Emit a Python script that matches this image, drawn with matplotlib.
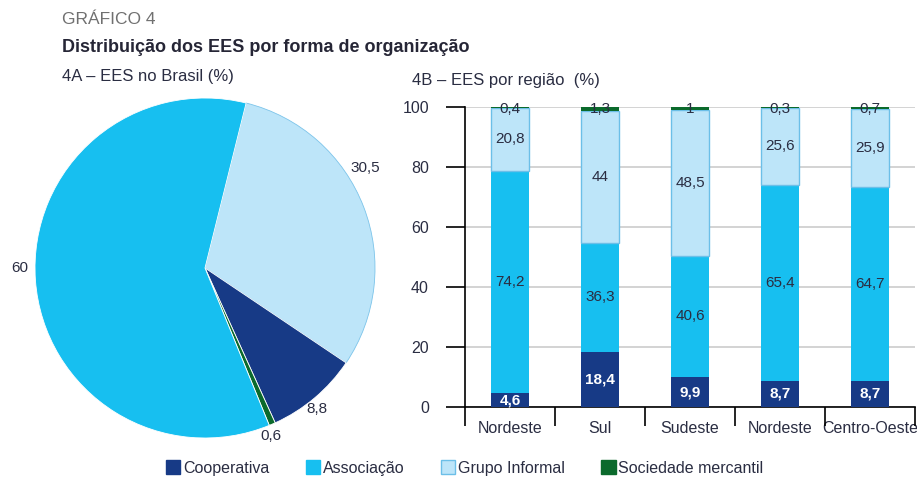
import matplotlib
matplotlib.use("Agg")
import matplotlib.pyplot as plt
import numpy as np
from matplotlib.patches import Patch
from matplotlib.ticker import FixedLocator

plt.rcParams['font.family'] = ['Liberation Sans', 'DejaVu Sans']

# dados
series = ['Cooperativa', 'Associação', 'Grupo Informal', 'Sociedade mercantil']
colors = ['#173a86', '#17bff0', '#bde5f9', '#0b6a2c']

pie_labels = ['Grupo Informal', 'Cooperativa', 'Sociedade mercantil', 'Associação']
pie_values = [30.5, 8.8, 0.6, 60]

regions = ['Nordeste', 'Sul', 'Sudeste', 'Nordeste', 'Centro-Oeste']
cooperativa = [4.6, 18.4, 9.9, 8.7, 8.7]
associacao = [74.2, 36.3, 40.6, 65.4, 64.7]
grupo = [20.8, 44, 48.5, 25.6, 25.9]
sociedade = [0.4, 1.3, 1, 0.3, 0.7]

txt = '#2a2d42'
W, H = 917, 480
fig = plt.figure(figsize=(W / 100, H / 100), dpi=100)

fig.text(62 / W, 1 - 20 / H, 'GRÁFICO 4', fontsize=12.5, color='#707070', va='center')
fig.text(62 / W, 1 - 48 / H, 'Distribuição dos EES por forma de organização', fontsize=13,
         fontweight='bold', color='#262636', va='center')
fig.text(62 / W, 1 - 77 / H, '4A – EES no Brasil (%)', fontsize=12, color=txt, va='center')
fig.text(412 / W, 1 - 80 / H, '4B – EES por região  (%)', fontsize=12, color=txt, va='center')

# pizza
cmap = dict(zip(series, colors))
axp = fig.add_axes([35 / W, 42 / H, 340 / W, 340 / H])
wedges, _ = axp.pie(pie_values, colors=[cmap[s] for s in pie_labels], startangle=76,
                    counterclock=False, radius=1,
                    wedgeprops=dict(linewidth=0.6, edgecolor='white'))
wedges[0].set_edgecolor('#7cc4ea')
axp.set_xlim(-1, 1)
axp.set_ylim(-1, 1)
axp.set_aspect('equal')
label_pos = {'Grupo Informal': (0.94, 0.59), 'Associação': (-1.09, 0.0),
             'Cooperativa': (0.66, -0.83), 'Sociedade mercantil': (0.39, -0.99)}
for name, v in zip(pie_labels, pie_values):
    lx, ly = label_pos[name]
    axp.text(lx, ly, f'{v:g}'.replace('.', ','), ha='center', va='center', fontsize=11, color=txt)

# barras
ax = fig.add_axes([465 / W, 73 / H, 450 / W, 300 / H])
x = np.arange(len(regions))
bw = 0.43
stacks = [cooperativa, associacao, grupo, sociedade]
bottom = np.zeros(len(regions))
for i, (vals, c) in enumerate(zip(stacks, colors)):
    vals = np.array(vals)
    ec = '#6cbfe8' if i == 2 else c
    ax.bar(x, vals, bw, bottom=bottom, color=c, edgecolor=ec, linewidth=1.0 if i == 2 else 0, zorder=3)
    for xi, b, v in zip(x, bottom, vals):
        lbl = f'{v:g}'.replace('.', ',')
        if i == 0:
            ax.text(xi, b + v / 2, lbl, ha='center', va='center', fontsize=11, color='white',
                    fontweight='bold', zorder=4)
        elif i == 3:
            ax.text(xi, 99.4, lbl, ha='center', va='center', fontsize=11, color=txt, zorder=4)
        else:
            ax.text(xi, b + v / 2, lbl, ha='center', va='center', fontsize=11, color=txt, zorder=4)
    bottom += vals

ax.set_xlim(-0.5, 4.5)
ax.set_ylim(0, 100)
ax.set_yticks([0, 20, 40, 60, 80, 100])
ax.yaxis.grid(True, color='#cccccc', linewidth=1.2, zorder=0)
ax.set_xticks(x)
ax.set_xticklabels(regions)
ax.xaxis.set_minor_locator(FixedLocator(np.arange(-0.5, 4.6, 1)))
ax.tick_params(axis='x', which='major', length=0, pad=10, labelsize=11.5, labelcolor=txt)
ax.tick_params(axis='x', which='minor', length=14, width=1.2, direction='out', color='black')
ax.tick_params(axis='y', length=14, width=1.2, pad=12, labelsize=11.5, labelcolor=txt)
for s in ['top', 'right']:
    ax.spines[s].set_visible(False)
for s in ['left', 'bottom']:
    ax.spines[s].set_linewidth(1.2)

handles = [Patch(facecolor=c, edgecolor=('#6cbfe8' if c == colors[2] else c)) for c in colors]
fig.legend(handles, series, loc='center left', bbox_to_anchor=(166 / W, 1 - 468 / H), ncol=4,
           frameon=False, fontsize=11.5, handlelength=0.9, handleheight=0.9, handletextpad=0.15,
           columnspacing=2.3, labelcolor=txt, borderaxespad=0, borderpad=0)

fig.savefig('out.png', dpi=100)
